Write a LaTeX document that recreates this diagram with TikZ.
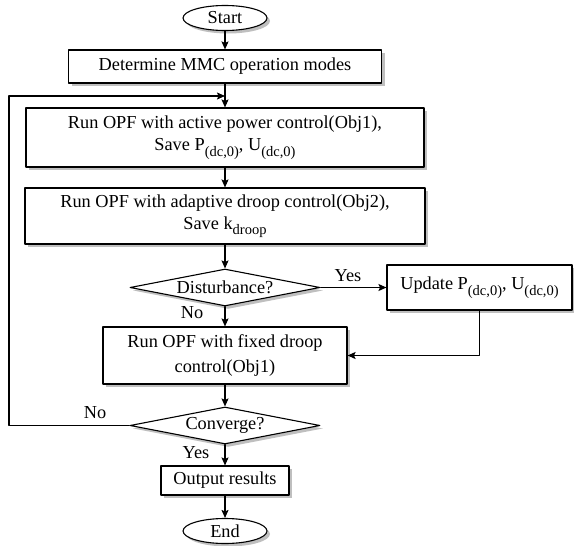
\documentclass[tikz,border=0pt]{standalone}
\usepackage{fontspec}
\setmainfont{Liberation Serif}
\usetikzlibrary{shapes.geometric,shadows,arrows.meta}
\newcommand{\lowtext}[1]{\raisebox{-5.5pt}{\fontsize{14.5}{15}\selectfont #1}}
\begin{document}
\begin{tikzpicture}[x=1pt, y=-1pt, line cap=round, line join=round, line width=1.1pt, font=\fontsize{18.3}{22}\selectfont, >={Stealth[length=8pt,width=7pt,inset=1.5pt]}]
	\tikzset{boxshadow/.style={drop shadow={shadow xshift=3pt, shadow yshift=-3pt, fill=black!25, opacity=1}},
		box/.style={draw, boxshadow, fill=white, rectangle, inner sep=0pt, align=center},
		term/.style={draw, boxshadow, fill=white, ellipse, inner sep=0pt, minimum width=84pt, minimum height=25pt},
		test/.style={draw, boxshadow, fill=white, diamond, inner sep=0pt, minimum width=190pt, minimum height=37pt}}
	\useasboundingbox (0,0) rectangle (574,546);
	\node[term] (start) at (225,18) {Start};
	\node[box, minimum width=313pt, minimum height=33pt] (det) at (225,66.5) {Determine MMC operation modes};
	\node[box, minimum width=398pt, minimum height=59pt] (run1) at (225,137.5) {Run OPF with active power control(Obj1),\\ Save P\lowtext{(dc,0)}, U\lowtext{(dc,0)}};
	\node[box, minimum width=400pt, minimum height=56pt] (run2) at (225,216) {Run OPF with adaptive droop control(Obj2),\\ Save k\lowtext{droop}};
	\node[test] (dist) at (225,287.5) {\makebox[0pt]{Disturbance?}};
	\node[box, minimum width=185pt, minimum height=45pt] (upd) at (479.5,287.5) {Update P\lowtext{(dc,0)}, U\lowtext{(dc,0)}};
	\node[box, minimum width=244pt, minimum height=57pt] (fix) at (225,355.5) {Run OPF with fixed droop\\[3pt] control(Obj1)};
	\node[test] (conv) at (225,425.5) {\makebox[0pt]{Converge?}};
	\node[box, minimum width=128pt, minimum height=29pt] (out) at (225,480.5) {Output results};
	\node[term] (end) at (225,531) {End};
	\node (yes1) at (348,276) {Yes};
	\node (no1) at (192,313) {No};
	\node (no2) at (95,413) {No};
	\node (yes2) at (196,453) {Yes};
	\coordinate (join) at (225,96);
	\coordinate (corner) at (9,96);
	\draw[->] (start) -- (det);
	\draw[->] (det) -- (run1);
	\draw[->] (run1) -- (run2);
	\draw[->] (run2) -- (dist);
	\draw[->] (dist) -- (fix);
	\draw[->] (dist.east) -- (upd.west);
	\draw[->] (upd.south) |- (fix.east);
	\draw[->] (fix) -- (conv);
	\draw[->] (conv) -- (out);
	\draw[->] (out) -- (end);
	\draw[->] (conv.west) -| (corner) -- (join);
\end{tikzpicture}
\end{document}
